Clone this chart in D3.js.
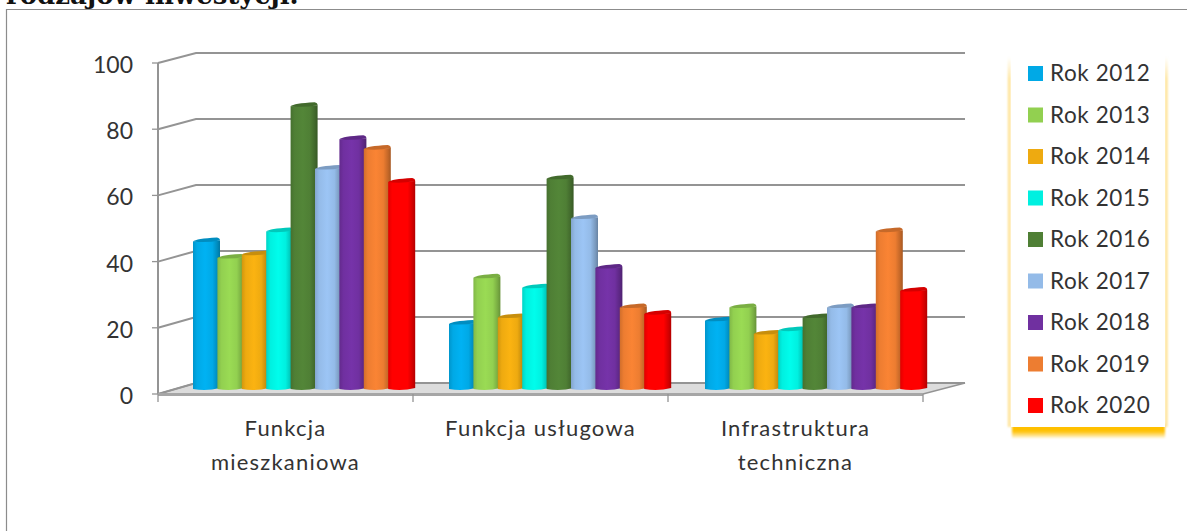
<!DOCTYPE html>
<html><head><meta charset="utf-8">
<script src="https://cdn.jsdelivr.net/npm/d3@7"></script>
<style>html,body{margin:0;padding:0;background:#fff}svg{display:block}text{font-family:Lato,sans-serif}</style>
</head><body><svg id="c" width="1187" height="531"></svg>
<script>
const categories=["Funkcja mieszkaniowa","Funkcja usługowa","Infrastruktura techniczna"];
const categoryLines=[["Funkcja","mieszkaniowa"],["Funkcja usługowa"],["Infrastruktura","techniczna"]];
const seriesNames=["Rok 2012","Rok 2013","Rok 2014","Rok 2015","Rok 2016","Rok 2017","Rok 2018","Rok 2019","Rok 2020"];
const seriesColors=["#00a9e6","#92d050","#eeaa10","#00f0e0","#4f7f35","#94bbe8","#7030a0","#ed7d31","#ff0000"];
const v2012=[45,20,21],v2013=[40,34,25],v2014=[41,22,17],v2015=[48,31,18],v2016=[86,64,22],v2017=[67,52,25],v2018=[76,37,25],v2019=[73,25,48],v2020=[63,23,30];
const seriesValues=[v2012,v2013,v2014,v2015,v2016,v2017,v2018,v2019,v2020];
const yTicks=[0,20,40,60,80,100];
const titleText="rodzajów inwestycji.";
const svg=d3.select("#c"),defs=svg.append("defs");
const shade=(c,k)=>d3.color(c).darker(k).formatHex();
seriesColors.forEach((c,i)=>{
 const g=defs.append("linearGradient").attr("id","g"+i);
 [[0,shade(c,.35)],[.15,c],[.45,d3.color(c).brighter(.15).formatHex()],[.72,c],[.9,shade(c,.55)],[1,shade(c,1)]].forEach(s=>g.append("stop").attr("offset",s[0]).attr("stop-color",s[1]));
});
const shadow=defs.append("linearGradient").attr("id","ls").attr("x1",0).attr("x2",0).attr("y1",0).attr("y2",1);
shadow.append("stop").attr("offset",0).attr("stop-color","#ffc000");
shadow.append("stop").attr("offset",.5).attr("stop-color","#ffc000");
shadow.append("stop").attr("offset",1).attr("stop-color","#ffc000").attr("stop-opacity",.15);
const side=defs.append("linearGradient").attr("id","sd").attr("x1",0).attr("x2",0).attr("y1",0).attr("y2",1);
side.append("stop").attr("offset",0).attr("stop-color","#ffe08a").attr("stop-opacity",0);
side.append("stop").attr("offset",.06).attr("stop-color","#ffe08a");
side.append("stop").attr("offset",1).attr("stop-color","#ffe08a");
defs.append("filter").attr("id","bl2").attr("x","-100%").attr("width","300%").attr("y","-30%").attr("height","160%").append("feGaussianBlur").attr("stdDeviation",1.2);
// frame
svg.append("path").attr("d","M6.5,531V9.5H1187").attr("fill","none").attr("stroke","#8c8c8c").attr("stroke-width",1.2);
svg.append("text").text(titleText).attr("x",6).attr("y",4).attr("font-size",26).attr("font-weight",700).style("font-family","'DejaVu Serif',serif").attr("fill","#111");
// axes
const yFront=d3.scaleLinear().domain([0,100]).range([394,63]);
const yBack=d3.scaleLinear().domain([0,100]).range([383,53]);
const yBar=d3.scaleLinear().domain([0,100]).range([387,57]);
const xCat=d3.scaleBand().domain(categories).range([158,923]);
const dxBack=38;
const grid="#949494";
// floor
svg.append("path").attr("d",`M158,${yFront(0)}L${158+dxBack},${yBack(0)}H965L923,${yFront(0)}Z`).attr("fill","#dcdcdc").attr("stroke",grid).attr("stroke-width",1.5);
const ax=svg.append("g").attr("fill","none").attr("stroke",grid).attr("stroke-width",2);
yTicks.forEach(t=>{
 ax.append("path").attr("d",`M158,${yFront(t)}L${158+dxBack},${yBack(t)}H965`);
 ax.append("line").attr("x1",152).attr("x2",158).attr("y1",yFront(t)).attr("y2",yFront(t)).attr("stroke-width",1.3);
 svg.append("text").text(t).attr("x",133).attr("y",yFront(t)+10).attr("text-anchor","end").attr("font-size",23).attr("fill","#333");
});
ax.append("line").attr("x1",158).attr("x2",158).attr("y1",yFront(100)).attr("y2",yFront(0));
ax.append("line").attr("x1",158).attr("x2",923).attr("y1",yFront(0)+.5).attr("y2",yFront(0)+.5).attr("stroke","#a6a6a6").attr("stroke-width",3);
[158,413,668,923].forEach(x=>ax.append("line").attr("x1",x).attr("x2",x).attr("y1",394).attr("y2",402).attr("stroke-width",1.3));
// bars
const xBar=d3.scaleBand().domain(seriesNames).range([0,219.6]);
const off=35;
const bw=27,ry=3;
const barsG=svg.append("g");
categories.forEach((cat,ci)=>{
 seriesNames.forEach((s,si)=>{
  const x=xCat(cat)+off+ci+xBar(s),v=seriesValues[si][ci],top=yBar(v),bot=390;
  const c=seriesColors[si];
  const cy=top+ry;
  barsG.append("path").attr("d",`M${x},${cy}L${x},${bot-1}Q${x+bw/2},${bot+1.5} ${x+bw},${bot-2}L${x+bw},${cy-1}Z`).attr("fill",`url(#g${si})`);
  barsG.append("path").attr("d",`M${x},${cy}Q${x+3},${top} ${x+bw-3},${top-1}Q${x+bw},${top-.5} ${x+bw},${cy-1}Q${x+bw/2},${cy+1.5} ${x},${cy}Z`).attr("fill",d3.color(c).darker(.5).formatHex());
 });
});
// x labels
categories.forEach((cat,i)=>{
 const cx=xCat(cat)+xCat.bandwidth()/2;
 categoryLines[i].forEach((l,j)=>svg.append("text").text(l).attr("x",cx).attr("y",436+j*34).attr("text-anchor","middle").attr("font-size",22).attr("letter-spacing",1.2).attr("fill","#333"));
});
// legend
const leg=svg.append("g");
leg.append("rect").attr("x",1012).attr("y",424).attr("width",153).attr("height",14).attr("fill","url(#ls)").attr("filter","url(#bl2)");
leg.append("rect").attr("x",1008).attr("y",57).attr("width",2.5).attr("height",370).attr("fill","url(#sd)").attr("filter","url(#bl2)");
leg.append("rect").attr("x",1165).attr("y",57).attr("width",2.5).attr("height",370).attr("fill","url(#sd)").attr("filter","url(#bl2)");
leg.append("rect").attr("x",1011).attr("y",40).attr("width",154).attr("height",387).attr("fill","#fff");
const yLeg=d3.scalePoint().domain(seriesNames).range([73,405]);
seriesNames.forEach((s,i)=>{
 leg.append("rect").attr("x",1028).attr("y",yLeg(s)-7).attr("width",15).attr("height",15).attr("fill",seriesColors[i]);
 leg.append("text").text(s).attr("x",1050).attr("y",yLeg(s)+8).attr("font-size",22.5).attr("letter-spacing",.6).attr("fill","#333");
});
</script></body></html>
